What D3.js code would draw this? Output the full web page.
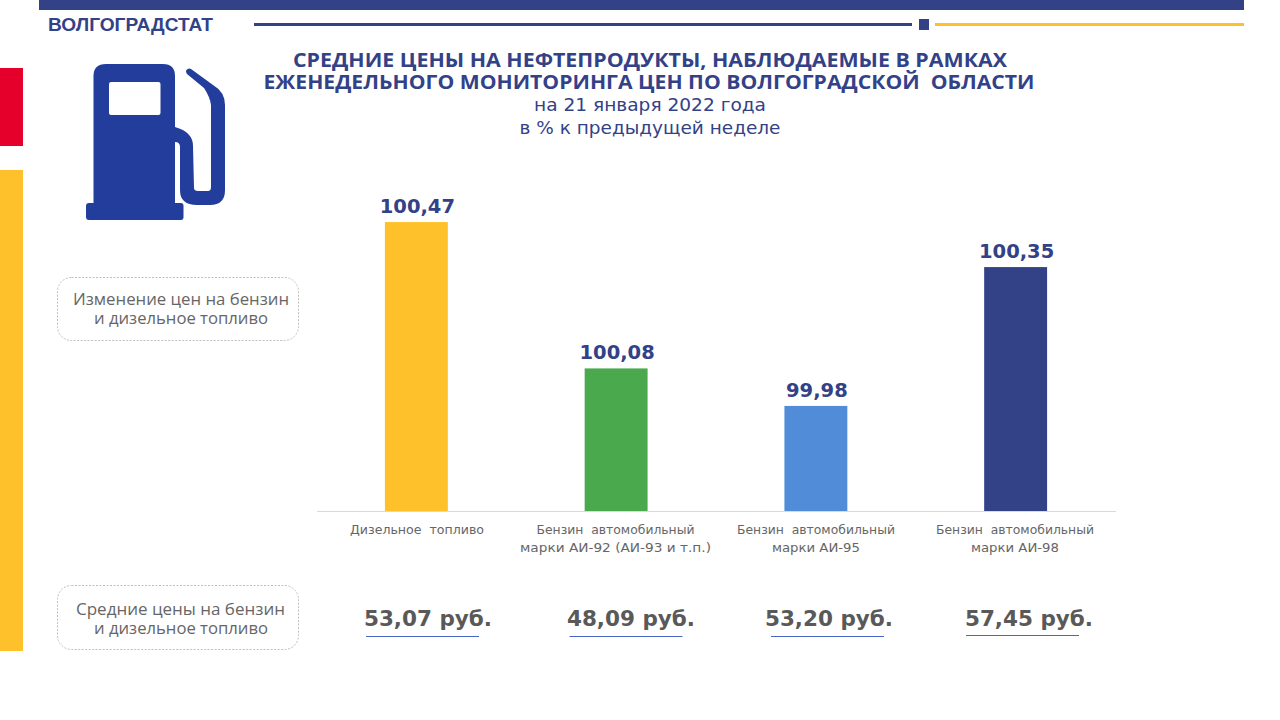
<!DOCTYPE html>
<html><head><meta charset="utf-8">
<script src="https://cdnjs.cloudflare.com/ajax/libs/d3/7.8.5/d3.min.js"></script>
<style>html,body{margin:0;padding:0;background:#fff}svg{display:block}</style>
</head><body><svg id="c" width="1280" height="720"></svg>
<script>
const categories = [["Дизельное  топливо"],["Бензин  автомобильный","марки АИ-92 (АИ-93 и т.п.)"],["Бензин  автомобильный","марки АИ-95"],["Бензин  автомобильный","марки АИ-98"]];
const values = [100.47,100.08,99.98,100.35];
const valueLabels = ["100,47","100,08","99,98","100,35"];
const prices = ["53,07 руб.","48,09 руб.","53,20 руб.","57,45 руб."];
const barColors = ["#FFC12B","#4BA94D","#518CD8","#334187"];
const titleLines = ["СРЕДНИЕ ЦЕНЫ НА НЕФТЕПРОДУКТЫ, НАБЛЮДАЕМЫЕ В РАМКАХ","ЕЖЕНЕДЕЛЬНОГО МОНИТОРИНГА ЦЕН ПО ВОЛГОГРАДСКОЙ  ОБЛАСТИ"];
const subLines = ["на 21 января 2022 года","в % к предыдущей неделе"];
const navy="#334187", grey="#595959";
const svg=d3.select("#c");
const rect=(x,y,w,h,f)=>svg.append("rect").attr("x",x).attr("y",y).attr("width",w).attr("height",h).attr("fill",f);
const text=(x,y,s,o)=>{const t=svg.append("text").attr("x",x).attr("y",y).attr("text-anchor",o.anchor||"middle")
  .attr("font-family",o.font).attr("font-size",o.size).attr("font-weight",o.weight||"normal").attr("fill",o.fill).style("white-space","pre").text(s);
  if(o.len)t.attr("textLength",o.len).attr("lengthAdjust","spacingAndGlyphs");return t;};

// frame decoration
rect(39,0,1205,10,navy);
rect(0,68,23,78,"#E4002B");
rect(0,170,23,481,"#FFC12B");
rect(254,23,658,3,navy);
rect(919,19,10,11,navy);
rect(935,23,309,3,"#FFC12B");
text(48,31,"ВОЛГОГРАДСТАТ",{anchor:"start",font:"Liberation Sans",size:18,weight:"bold",fill:navy,len:165});

// title
const tf="Open Sans";
text(650,67,titleLines[0],{font:tf,size:20,weight:"bold",fill:navy,len:714});
text(649,89,titleLines[1],{font:tf,size:20,weight:"bold",fill:navy,len:771});
text(650,111,subLines[0],{font:"DejaVu Sans",size:18.5,fill:navy,len:232});
text(650,134,subLines[1],{font:"DejaVu Sans",size:18.5,fill:navy,len:261});

// pump icon
svg.append("path").attr("fill","#233D9C").attr("fill-rule","evenodd").attr("d",
 "M106 64H163Q175 64 175 76V127Q193 132 193 146L194 188Q194 191 198 191H208Q211 191 211 187V105Q210 97 204 88L187 74Q185 71 187 69.500Q189 68 191 69L213 85Q225 92 225 105V190Q225 205 210 205H197Q180 205 180 190V147Q180 142 175 142V203H181Q183.500 203 183.500 206V217Q183.500 220 181 220H89Q86 220 86 217V206Q86 203 89 203H93.500V76Q93.500 64 106 64Z"
 +"M111 82H158.500Q160.500 82 160.500 84V113Q160.500 115 158.500 115H111Q109 115 109 113V84Q109 82 111 82Z");

// side boxes
function box(y,h,lines,ys,xc){
  svg.append("rect").attr("x",57.500).attr("y",y).attr("width",241).attr("height",h).attr("rx",14)
    .attr("fill","#fff").attr("stroke","#BFBFBF").attr("stroke-width",1).attr("stroke-dasharray","2 1.500");
  lines.forEach((l,i)=>text(xc[i],ys[i],l.s,{font:"Open Sans",size:16,fill:"#666666",len:l.w}));
}
box(277.500,63,[{s:"Изменение цен на бензин",w:216},{s:"и дизельное топливо",w:174}],[305,324],[181,181]);
box(585.500,64,[{s:"Средние цены на бензин",w:209},{s:"и дизельное топливо",w:174}],[615,634],[180.500,181]);

// chart
const x=d3.scaleBand().domain(d3.range(categories.length)).range([316.5,1115.5]).paddingInner(0.685).paddingOuter(0.3425);
const y=d3.scaleLinear().domain([99.7,100.5]).range([511,210.8]);
const g=svg.append("g");
g.selectAll("rect.bar").data(values).join("rect").attr("class","bar")
  .attr("x",(d,i)=>x(i)).attr("width",x.bandwidth()).attr("y",d=>y(d)).attr("height",d=>y.range()[0]-y(d))
  .attr("fill",(d,i)=>barColors[i]);
const axis=d3.axisBottom(x).tickSize(0).tickFormat("");
const ag=svg.append("g").attr("transform","translate(0,511)").call(axis);
ag.select(".domain").attr("stroke","#D9D9D9").attr("stroke-width",1);
g.selectAll("text.val").data(values).join("text").attr("class","val")
  .attr("x",(d,i)=>x(i)+x.bandwidth()/2+1).attr("y",d=>y(d)-9).attr("text-anchor","middle")
  .attr("font-family","DejaVu Sans").attr("font-size",19.5).attr("font-weight","bold").attr("fill",navy)
  .text((d,i)=>valueLabels[i]);
const labelWidths=[[134],[158,191],[158,88],[158,88]];
const labelX=[417,615.5,816,1015];
categories.forEach((c,i)=>c.forEach((l,j)=>{
  text(labelX[i],534+j*18,l,{font:"DejaVu Sans",size:12.500,fill:"#666666",len:labelWidths[i][j]});
}));
const priceX=[428,631,829,1029], lineX=[366,569.5,771,966], priceY=[636,636,636,635];
prices.forEach((p,i)=>{
  text(priceX[i],625.5,p,{font:"DejaVu Sans",size:21.500,weight:"bold",fill:grey});
  svg.append("line").attr("x1",lineX[i]).attr("x2",lineX[i]+113).attr("y1",priceY[i]+.5).attr("y2",priceY[i]+.5).attr("stroke","#4A66C4").attr("stroke-width",1);
});
</script></body></html>
